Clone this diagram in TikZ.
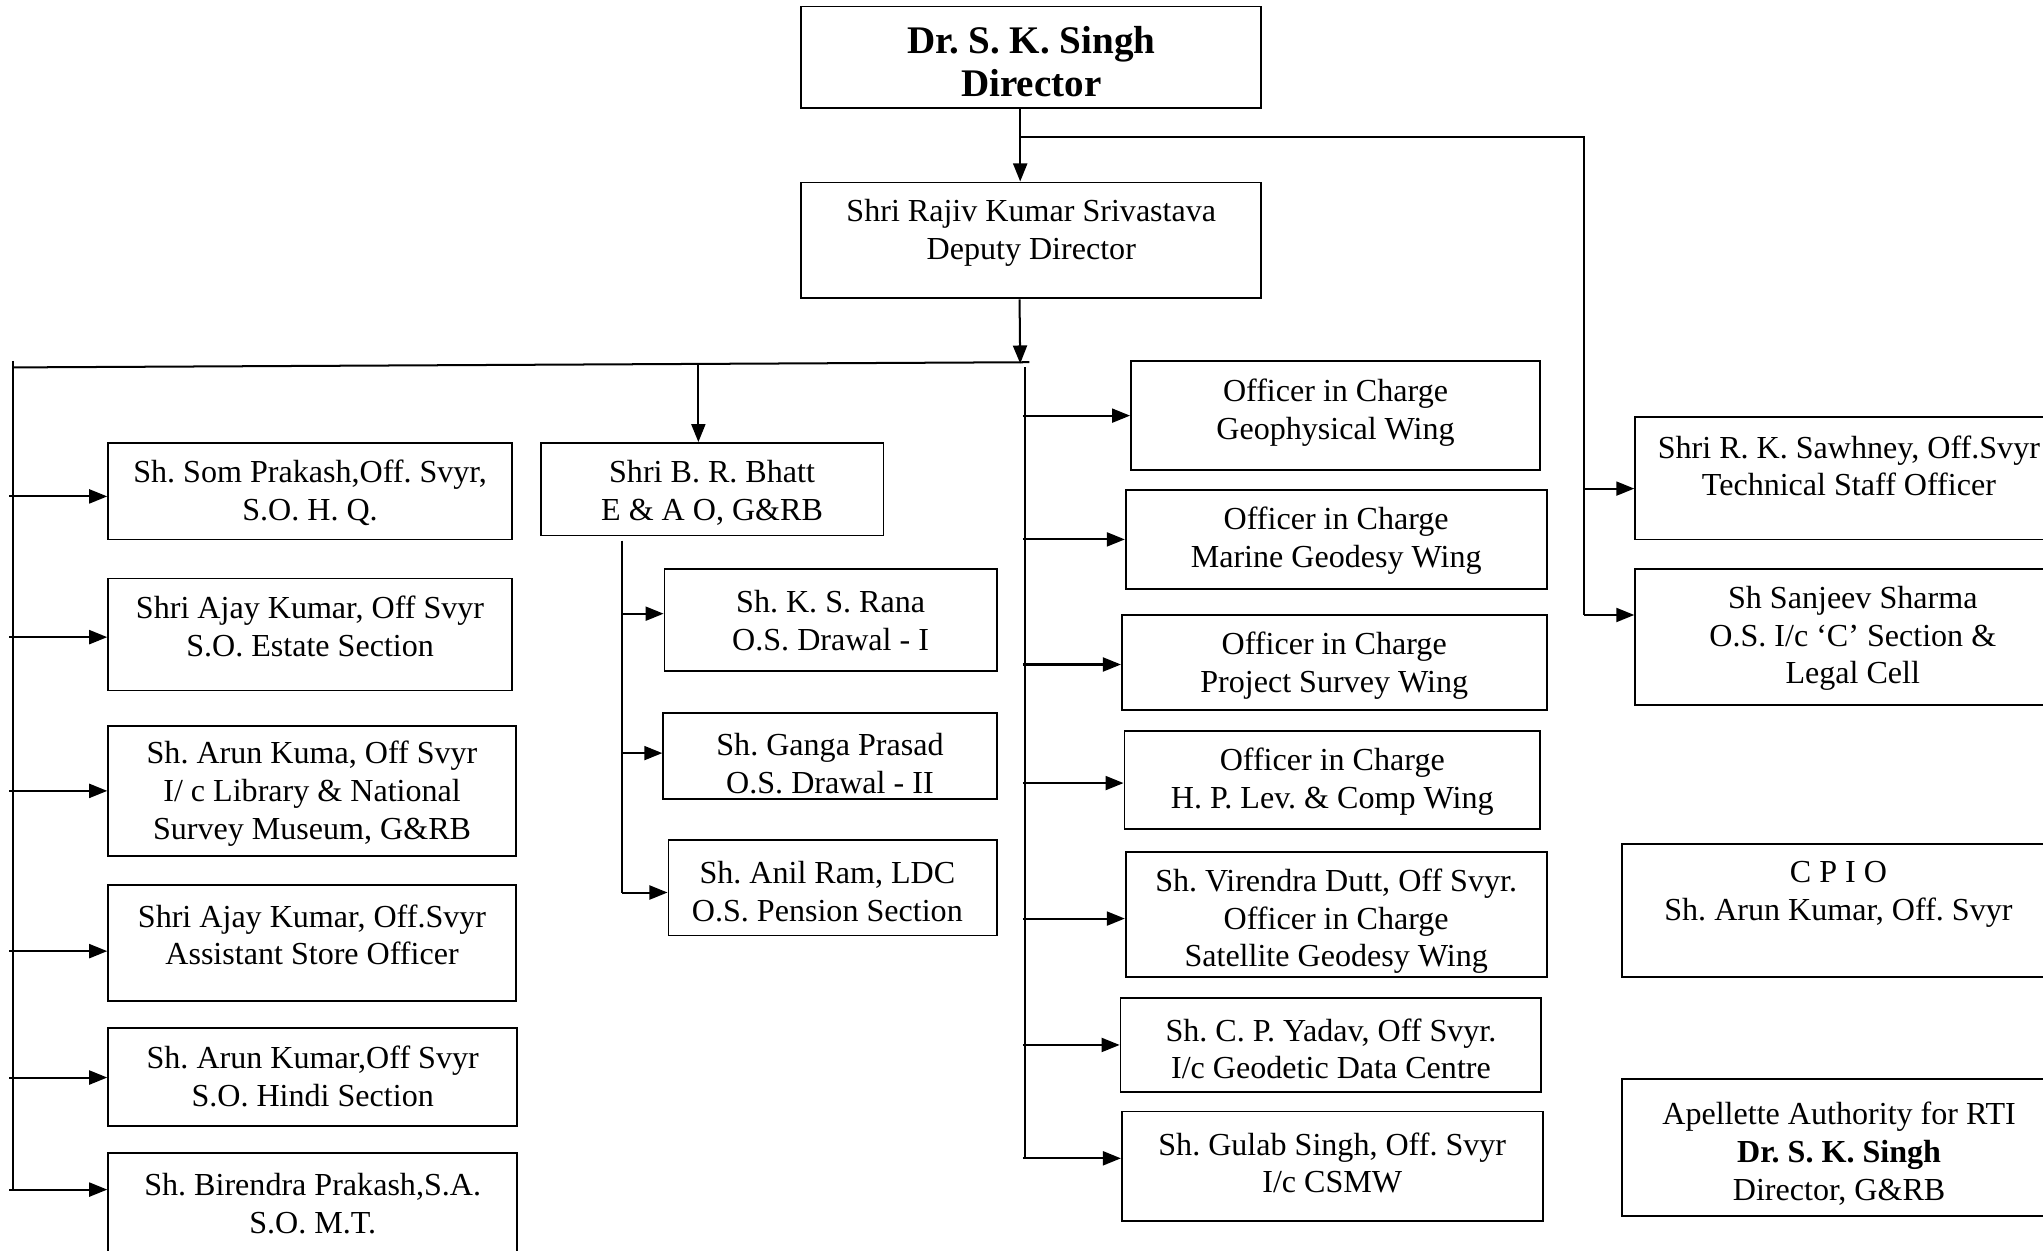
\documentclass[tikz,border=0pt]{standalone}
\usepackage{fontspec}
\setmainfont{Liberation Serif}
\usetikzlibrary{arrows.meta,fit}
\frenchspacing
\newcommand\obox[9][]{%
  \node[boxst, fit={(#3,#4)(#5,#6)}] (#2) {};
  \node[txt,#1] (#2-t) at (#7,#8) {#9};
}
\begin{document}
\begin{tikzpicture}[x=0.65pt,y=-0.65pt,
  boxst/.style={draw, line width=0.9pt, inner sep=0pt},
  txt/.style={align=center, inner sep=0pt, yshift=-1.3pt, font=\fontsize{16}{18.85}\selectfont},
  ln/.style={line width=1pt},
  arr/.style={line width=1pt, -{Triangle[length=9pt,width=7pt]}}]
\useasboundingbox (0,0) rectangle (1568,960);
\clip (0,0) rectangle (1568,960);

% boxes
\obox[font=\fontsize{19.5}{21.5}\selectfont\bfseries]{dir}{615}{5}{968}{83}{791.5}{45.5}{Dr. S. K. Singh\\Director}
\obox{dep}{615}{140}{968}{229}{791.5}{176.5}{Shri Rajiv Kumar Srivastava\\Deputy Director}

\obox{som}{83}{340}{393}{414}{238}{376.5}{Sh. Som Prakash,Off. Svyr,\\S.O. H. Q.}
\obox{ajay}{83}{444}{393}{530}{238}{478.5}{Shri Ajay Kumar, Off Svyr\\S.O. Estate Section}
\obox{arun}{83}{557}{396}{657}{239.5}{607}{Sh. Arun Kuma, Off Svyr\\I/ c Library \& National\\Survey Museum, G\&RB}
\obox{asst}{83}{679}{396}{768}{239.5}{715.5}{Shri Ajay Kumar, Off.Svyr\\Assistant Store Officer}
\obox{hindi}{83}{789}{397}{864}{240}{824}{Sh. Arun Kumar,Off Svyr\\S.O. Hindi Section}
\obox{bir}{83}{885}{397}{990}{240}{922}{Sh. Birendra Prakash,S.A.\\S.O. M.T.}

\obox{bhatt}{415}{340}{678}{411}{546.5}{376}{Shri B. R. Bhatt\\E \& A O, G\&RB}
\obox{rana}{510}{437}{765}{515}{637.5}{474.5}{Sh. K. S. Rana\\O.S. Drawal - I}
\obox{ganga}{509}{547}{765}{613}{637}{584}{Sh. Ganga Prasad\\O.S. Drawal - II}
\obox{anil}{513}{645}{765}{718}{635}{682}{Sh. Anil Ram, LDC\\O.S. Pension Section}

\obox{geo}{868}{277}{1182}{361}{1025}{314.5}{Officer in Charge\\Geophysical Wing}
\obox{mar}{864}{376}{1187}{452}{1025.5}{413}{Officer in Charge\\Marine Geodesy Wing}
\obox{proj}{861}{472}{1187}{545}{1024}{509}{Officer in Charge\\Project Survey Wing}
\obox{hp}{863}{561}{1182}{636}{1022.5}{598}{Officer in Charge\\H. P. Lev. \& Comp Wing}
\obox{vir}{864}{654}{1187}{750}{1025.5}{705}{Sh. Virendra Dutt, Off Svyr.\\Officer in Charge\\Satellite Geodesy Wing}
\obox{yad}{860}{766}{1183}{838}{1021.5}{803}{Sh. C. P. Yadav, Off Svyr.\\I/c Geodetic Data Centre}
\obox{gul}{861}{853}{1184}{937}{1022.5}{890.5}{Sh. Gulab Singh, Off. Svyr\\I/c CSMW}

\obox{saw}{1255}{320}{1590}{414}{1419}{355.5}{Shri R. K. Sawhney, Off.Svyr\\Technical Staff Officer}
\obox{sha}{1255}{437}{1590}{541}{1422}{488}{Sh Sanjeev Sharma\\O.S. I/c ‘C’ Section \&\\Legal Cell}
\obox{cpio}{1245}{648}{1590}{750}{1411}{684.5}{C P I O\\Sh. Arun Kumar, Off. Svyr}
\obox{app}{1245}{828}{1590}{933}{1411.5}{883.5}{Apellette Authority for RTI\\\textbf{Dr. S. K. Singh}\\Director, G\&RB}

% director to deputy, and right branch
\coordinate (c1) at (783,0);
\draw[arr] (c1 |- dir.south) -- (c1 |- dep.north);
\coordinate (br) at (783,105);
\coordinate (rx) at (1216,105);
\coordinate (r1) at (1216,375);
\coordinate (r2) at (1216,472);
\draw[ln] (br) -- (rx) -- (r2);
\draw[arr] (r1) -- (r1 -| saw.west);
\draw[arr] (r2) -- (r2 -| sha.west);

% deputy down to hub
\coordinate (c2) at (782.5,0);
\coordinate (hub) at (783,279);
\draw[arr] (c2 |- dep.south) -- (hub);
\coordinate (tl) at (10,282);
\coordinate (tr) at (790,278);
\draw[ln] (tl) -- (tr);

% left spine
\coordinate (ls0) at (10,277);
\coordinate (ls1) at (10,913);
\draw[ln] (ls0) -- (ls1);
\foreach \n/\yy in {som/381, ajay/489, arun/607, asst/730, hindi/827, bir/913}{
  \coordinate (l-\n) at (7,\yy);
  \draw[arr] (l-\n) -- (l-\n -| \n.west);
}

% Bhatt
\coordinate (bt) at (536,280);
\draw[arr] (bt) -- (bt |- bhatt.north);
\coordinate (bs0) at (477,415);
\coordinate (bs1) at (477,685);
\draw[ln] (bs0) -- (bs1);
\foreach \n/\yy in {rana/471, ganga/578, anil/685}{
  \coordinate (b-\n) at (477,\yy);
  \draw[arr] (b-\n) -- (b-\n -| \n.west);
}

% centre spine
\coordinate (cs0) at (787,282);
\coordinate (cs1) at (787,889);
\draw[ln] (cs0) -- (cs1);
\foreach \n/\yy in {geo/319, mar/414, proj/510, hp/601, vir/705, yad/802, gul/889}{
  \coordinate (m-\n) at (785,\yy);
  \draw[arr] (m-\n) -- (m-\n -| \n.west);
}
\end{tikzpicture}
\end{document}
